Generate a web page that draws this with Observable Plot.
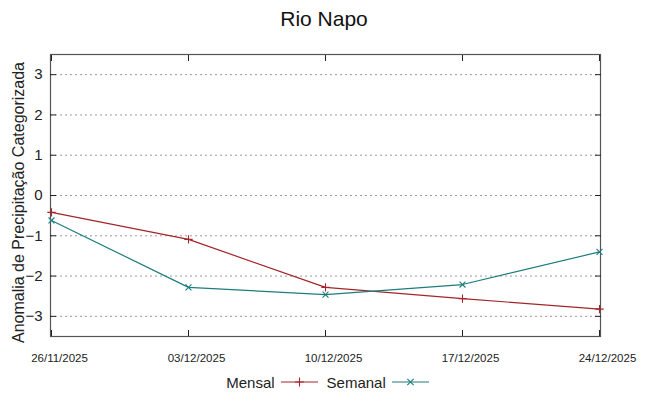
<!DOCTYPE html>
<html>
<head>
<meta charset="utf-8">
<script src="https://cdn.jsdelivr.net/npm/d3@7"></script>
<script src="https://cdn.jsdelivr.net/npm/@observablehq/plot@0.6"></script>
<style>
  body { margin: 0; background: #fff; font-family: "Liberation Sans", Arial, sans-serif; }
  #wrap { width: 648px; height: 396px; position: relative; }
  #title { height: 38px; line-height: 38px; text-align: center; font-size: 21px; color: #111; }
  #legend { height: 28px; display: flex; align-items: center; justify-content: center; font-size: 15px; color: #222; padding-left: 16px; }
  #legend span.lab { margin: 0 6px 0 0; }
  #legend svg { margin-right: 8px; }
</style>
</head>
<body>
<div id="wrap">
  <div id="title">Rio Napo</div>
  <div id="chart"></div>
  <div id="legend"></div>
</div>
<script>
const dates = ["26/11/2025", "03/12/2025", "10/12/2025", "17/12/2025", "24/12/2025"];
const mensal = [-0.42, -1.09, -2.28, -2.56, -2.82];
const semanal = [-0.62, -2.28, -2.46, -2.21, -1.40];
const yTicks = [-3, -2, -1, 0, 1, 2, 3];
const yLabel = "Anomalia de Precipitação Categorizada";
const seriesNames = ["Mensal", "Semanal"];
const seriesColors = ["#a3252a", "#1d7d7d"];
const seriesSymbols = ["plus", "times"];

const seriesValues = [mensal, semanal];
const data = seriesNames.flatMap((name, s) =>
  dates.map((d, i) => ({ date: d, value: seriesValues[s][i], series: name }))
);

const chart = Plot.plot({
  width: 648,
  height: 330,
  marginTop: 16,
  marginBottom: 32,
  marginLeft: 50,
  marginRight: 48,
  style: { fontFamily: "Liberation Sans, Arial, sans-serif", background: "white", color: "#222", overflow: "visible" },
  x: { type: "point", domain: dates, padding: 0 },
  y: { domain: [-3.5, 3.5] },
  color: { domain: seriesNames, range: seriesColors },
  symbol: { domain: seriesNames, range: seriesSymbols },
  marks: [
    Plot.ruleY(yTicks, { stroke: "#9a9a9a", strokeDasharray: "2,3", strokeWidth: 1 }),
    Plot.frame({ stroke: "#555", strokeWidth: 1.2 }),
    Plot.axisY(yTicks, { anchor: "left", tickSize: 6, dx: 6, text: null, label: null, stroke: "#222" }),
    Plot.axisY(yTicks, { anchor: "right", tickSize: 6, dx: -6, text: null, label: null, stroke: "#222" }),
    Plot.axisX(dates, { anchor: "bottom", tickSize: 6, dy: -6, text: null, label: null, stroke: "#222" }),
    Plot.axisX(dates, { anchor: "top", tickSize: 6, dy: 6, text: null, label: null, stroke: "#222" }),
    Plot.axisY(yTicks, { anchor: "left", tickSize: 0, tickPadding: 8, fontSize: 15, label: null }),
    Plot.text([yLabel], { text: d => d, frameAnchor: "left", textAnchor: "middle", rotate: -90, dx: -32, dy: 7, fontSize: 16, fill: "#222" }),
    Plot.axisX(dates, { anchor: "bottom", tickSize: 0, tickPadding: 17, dx: 8, fontSize: 11.5, label: null }),
    Plot.line(data, { x: "date", y: "value", stroke: "series", strokeWidth: 1.2 }),
    Plot.dot(data, { x: "date", y: "value", stroke: "series", symbol: "series", r: 2.8, strokeWidth: 1.1 })
  ]
});
document.getElementById("chart").appendChild(chart);

const legend = document.getElementById("legend");
seriesNames.forEach((name, i) => {
  const lab = document.createElement("span");
  lab.className = "lab";
  lab.textContent = name;
  legend.appendChild(lab);
  const svg = d3.create("svg").attr("width", 38).attr("height", 12);
  svg.append("line").attr("x1", 0).attr("x2", 37).attr("y1", 6).attr("y2", 6)
    .attr("stroke", seriesColors[i]).attr("stroke-width", 1.2);
  svg.append("path").attr("transform", "translate(18.5,6)")
    .attr("d", d3.symbol(seriesSymbols[i] === "plus" ? d3.symbolPlus : d3.symbolTimes, 28)())
    .attr("fill", "none").attr("stroke", seriesColors[i]).attr("stroke-width", 1.1);
  legend.appendChild(svg.node());
});
</script>
</body>
</html>
